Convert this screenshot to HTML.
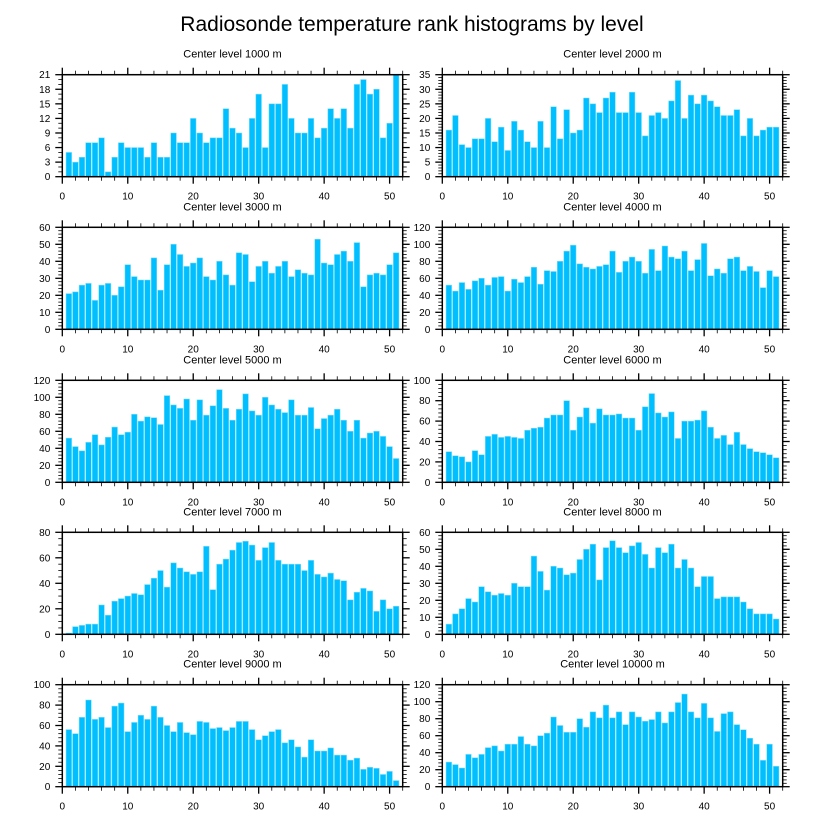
<!DOCTYPE html>
<html><head><meta charset="utf-8"><style>
html,body{margin:0;padding:0;background:#fff;}
svg{display:block;font-family:"Liberation Sans",Arial,sans-serif;}
</style></head><body>
<svg id="chart" width="822" height="824" viewBox="0 0 822 824" xmlns="http://www.w3.org/2000/svg">
<rect x="0" y="0" width="822" height="824" fill="#fff"/>
<text x="412" y="31" font-size="21" text-anchor="middle" fill="#000">Radiosonde temperature rank histograms by level</text>
</svg>
<script>
const panelTitles = ["Center level 1000 m","Center level 2000 m","Center level 3000 m","Center level 4000 m","Center level 5000 m","Center level 6000 m","Center level 7000 m","Center level 8000 m","Center level 9000 m","Center level 10000 m"];
const xTicks = [0,10,20,30,40,50];
const yMax = [21,35,60,120,120,100,80,60,100,120];
const yStep = [3,5,10,20,20,20,20,10,20,20];
const yMinorDiv = [3,5,5,5,5,5,4,5,5,5];
const counts1000 = [5,3,4,7,7,8,1,4,7,6,6,6,4,7,4,4,9,7,7,12,9,7,8,8,14,10,9,6,12,17,6,15,15,19,12,9,9,12,8,10,14,12,14,10,19,20,17,18,8,11,21];
const counts2000 = [16,21,11,10,13,13,20,12,17,9,19,16,12,10,19,10,24,13,23,15,16,27,25,22,27,29,22,22,29,22,14,21,22,20,26,33,20,28,25,28,26,24,21,21,23,14,20,14,16,17,17];
const counts3000 = [21,22,26,27,17,26,27,20,25,38,31,29,29,42,23,38,50,44,37,39,42,31,29,40,32,26,45,44,28,37,40,33,37,40,31,35,33,32,53,39,38,44,46,40,51,25,32,33,32,38,45];
const counts4000 = [52,45,55,47,57,60,52,61,62,45,59,55,62,73,53,69,68,80,92,99,77,73,71,74,76,92,67,80,85,80,66,94,69,98,85,83,92,69,82,101,63,71,66,83,85,69,74,68,49,69,62];
const counts5000 = [52,42,37,47,56,44,53,65,56,59,80,72,77,76,68,102,91,87,98,73,97,79,90,109,87,73,86,104,84,79,100,91,86,82,97,79,79,88,63,75,79,86,73,60,73,52,58,60,54,42,28];
const counts6000 = [30,26,25,20,31,27,45,47,44,45,44,43,51,53,54,63,66,66,80,51,64,73,58,72,66,66,67,63,63,51,74,87,68,64,69,43,60,60,61,70,54,43,46,37,49,37,33,30,29,27,24];
const counts7000 = [1,6,7,8,8,23,15,26,28,30,32,31,39,44,50,37,56,52,49,47,49,69,35,55,59,66,72,73,70,58,68,72,58,55,55,55,50,58,47,45,48,43,42,27,33,36,34,18,27,20,22];
const counts8000 = [6,12,15,21,19,28,25,23,24,23,30,28,28,46,37,26,40,39,35,36,44,50,53,32,51,55,51,48,52,54,47,39,51,48,53,39,44,39,28,34,34,21,22,22,22,19,15,12,12,12,9];
const counts9000 = [56,52,68,85,66,68,58,79,82,54,63,70,66,79,68,60,54,63,53,51,64,63,57,58,55,58,64,64,56,46,50,54,56,43,46,39,29,46,35,35,38,31,31,26,28,17,19,18,12,15,6];
const counts10000 = [29,26,22,38,34,38,46,48,42,50,50,59,50,48,60,63,82,72,64,64,80,70,88,81,96,81,88,73,88,82,77,79,88,75,88,99,109,88,81,98,81,65,86,88,73,67,57,50,31,50,24];
const allCounts = [counts1000,counts2000,counts3000,counts4000,counts5000,counts6000,counts7000,counts8000,counts9000,counts10000];

const NS = "http://www.w3.org/2000/svg";
const svg = document.getElementById("chart");
function mk(tag, attrs, parent){
  const e = document.createElementNS(NS, tag);
  for (const k in attrs) e.setAttribute(k, attrs[k]);
  (parent||svg).appendChild(e);
  return e;
}
const colX = [62.3, 442.3];
const rowY = [74.7, 227.3, 380.3, 532.3, 684.7];
const PW = 340.4, PH = 102;
const XMAX = 52;

allCounts.forEach((vals, p) => {
  const L = colX[p % 2], T = rowY[Math.floor(p / 2)], B = T + PH, R = L + PW;
  const xS = v => L + v / XMAX * PW;
  const yS = v => B - v / yMax[p] * PH;
  const g = mk("g", {});
  
  
  const t = mk("text", {x: (L + R) / 2, y: T - 17, "font-size": 11, "text-anchor": "middle", fill: "#000"}, g);
  
  
  t.textContent = panelTitles[p];
  vals.forEach((v, i) => {
    const c = i + 1, w = 0.86;
    const r = mk("rect", {x: xS(c - w / 2), y: yS(v), width: xS(c + w / 2) - xS(c - w / 2), height: B - yS(v), fill: "#00bfff", stroke: "#7fdcff", "stroke-width": 0.5}, g);
    
    
  });
  // x ticks
  for (let v = 0; v <= XMAX; v += 2) {
    const major = v % 10 === 0, len = major ? 7 : 4, x = xS(v);
    mk("line", {x1: x, x2: x, y1: B, y2: B + len, stroke: "#000", "stroke-width": major ? 1.3 : 0.8}, g);
    mk("line", {x1: x, x2: x, y1: T, y2: T - len, stroke: "#000", "stroke-width": major ? 1.3 : 0.8}, g);
  }
  xTicks.forEach(v => {
    const lt = mk("text", {x: xS(v), y: B + 23, "font-size": 10, "text-anchor": "middle", fill: "#000"}, g);
    
    
    lt.textContent = v;
  });
  // y ticks
  const minor = yStep[p] / yMinorDiv[p];
  for (let k = 0; k * minor <= yMax[p] + 1e-9; k++) {
    const v = k * minor, major = k % yMinorDiv[p] === 0, len = major ? 7 : 4, y = yS(v);
    mk("line", {x1: L, x2: L - len, y1: y, y2: y, stroke: "#000", "stroke-width": major ? 1.3 : 0.8}, g);
    mk("line", {x1: R, x2: R + len, y1: y, y2: y, stroke: "#000", "stroke-width": major ? 1.3 : 0.8}, g);
  }
  for (let v = 0; v <= yMax[p]; v += yStep[p]) {
    const yt = mk("text", {x: L - 12, y: yS(v) + 3.5, "font-size": 10, "text-anchor": "end", fill: "#000"}, g);
    
    
    yt.textContent = v;
  }
  mk("rect", {x: L, y: T, width: PW, height: PH, fill: "none", stroke: "#000", "stroke-width": 1.5}, g);
});
</script>
</body></html>
